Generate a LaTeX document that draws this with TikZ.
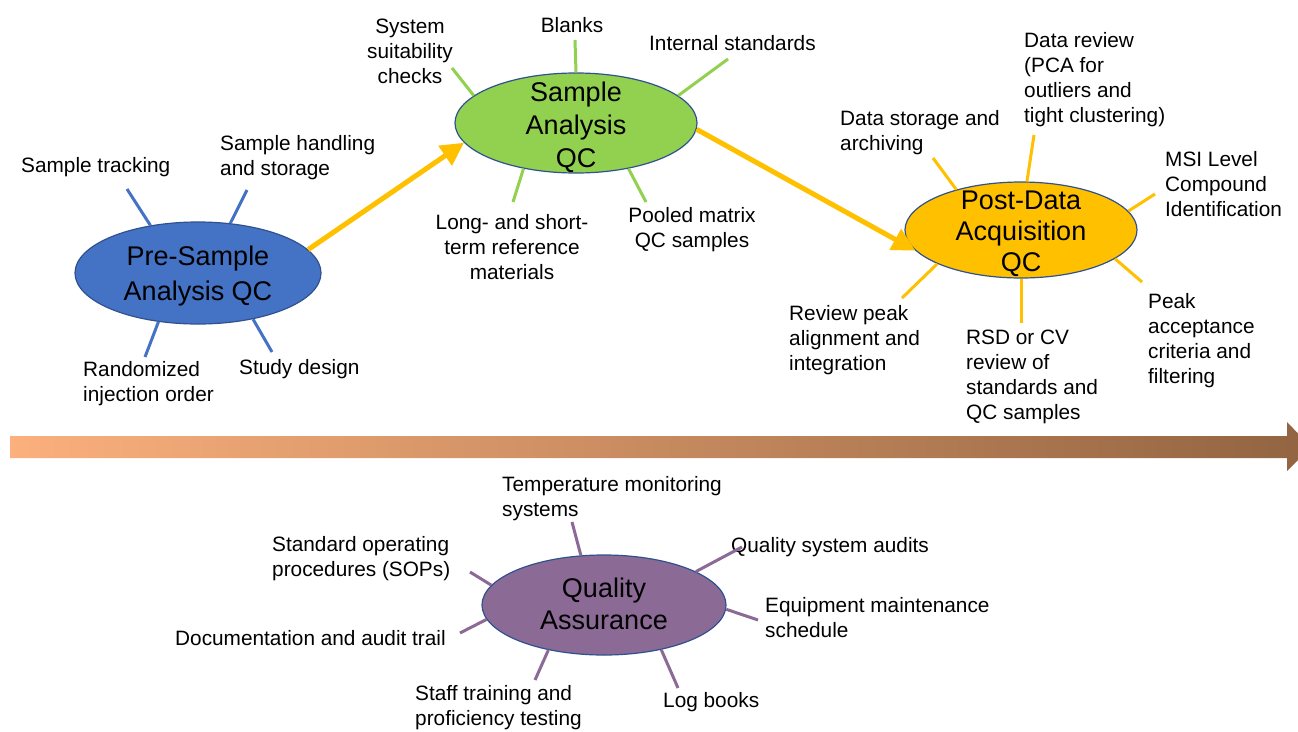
\documentclass[tikz,border=0pt]{standalone}
\usepackage{fontspec}
\setmainfont{Liberation Sans}
\usetikzlibrary{arrows.meta,shapes.geometric}
\definecolor{cblue}{HTML}{4472C4}
\definecolor{cgreen}{HTML}{92D050}
\definecolor{cyellow}{HTML}{FFC000}
\definecolor{cpurple}{HTML}{8C6A96}
\definecolor{cborder}{HTML}{2F528F}
\definecolor{gleft}{HTML}{FBB07D}
\definecolor{gright}{HTML}{926441}
\tikzset{
  ell/.style={ellipse, draw=cborder, line width=1.2pt, inner sep=0pt},
  bigtxt/.style={align=center, inner sep=0pt, font=\fontsize{27}{33}\selectfont},
  lbl/.style={align=left, anchor=west, inner sep=0pt, font=\fontsize{20.8}{25}\selectfont},
  lblc/.style={align=center, anchor=center, inner sep=0pt, font=\fontsize{20.8}{25}\selectfont},
  spoke/.style={line width=3pt},
  yarrow/.style={draw=cyellow, line width=5pt, -{Triangle[length=23pt,width=23pt]}}
}
\begin{document}
\begin{tikzpicture}[x=1pt,y=-1pt]
\useasboundingbox (0,0) rectangle (1298,731);
\fill[white] (0,0) rectangle (1298,731);
% timeline arrow
\begin{scope}
\clip (0,0) rectangle (1298,731);
\shade[left color=gleft, right color=gright] (10,436) -- (1287,436) -- (1287,422) -- (1311,447) -- (1287,471) -- (1287,458) -- (10,458) -- cycle;
\end{scope}
% ellipses
\node[ell, fill=cblue, minimum width=246pt, minimum height=102pt] (pre) at (198,273) {};
\node[bigtxt, font=\fontsize{27}{35}\selectfont, yshift=-3pt] (pret) at (pre) {Pre-Sample\\Analysis QC};
\node[ell, fill=cgreen, minimum width=242pt, minimum height=100pt] (sa) at (576,123) {};
\node[bigtxt, yshift=-4pt] (sat) at (sa) {Sample\\Analysis\\QC};
\node[ell, fill=cyellow, minimum width=232pt, minimum height=96pt] (pd) at (1021,230) {};
\node[bigtxt, yshift=-4pt, font=\fontsize{27}{31}\selectfont] (pdt) at (pd) {Post-Data\\Acquisition\\QC};
\node[ell, fill=cpurple, minimum width=244pt, minimum height=100pt] (qa) at (604,605) {};
\node[bigtxt, yshift=1pt, font=\fontsize{27}{32}\selectfont] (qat) at (qa) {Quality\\Assurance};
% main arrows
\draw[yarrow] (pre.12) -- (sa.190);
\draw[yarrow] (sa.-3) -- (pd.191);
% Pre-sample labels
\node[lbl] (l1) at (21,167) {Sample tracking};
\node[lbl] (l2) at (220,158) {Sample handling\\and storage};
\node[lbl] (l3) at (83,384) {Randomized\\injection order};
\node[lbl] (l4) at (239,369) {Study design};
\coordinate (c1) at (127,189);
\coordinate (c2) at (247,190);
\coordinate (c3) at (145,357);
\coordinate (c4) at (272,352);
\draw[spoke, cblue] (pre.135) -- (c1);
\draw[spoke, cblue] (pre.57) -- (c2);
\draw[spoke, cblue] (pre.231) -- (c3);
\draw[spoke, cblue] (pre.-40) -- (c4);
% Sample analysis labels
\node[lblc] (s1) at (410,51) {System\\suitability\\checks};
\node[lblc] (s2) at (572,25) {Blanks};
\node[lbl] (s3) at (649,43) {Internal standards};
\node[lblc] (s4) at (512,247) {Long- and short-\\term reference\\materials};
\node[lblc] (s5) at (692,230) {Pooled matrix\\QC samples};
\coordinate (d1) at (452,68);
\coordinate (d2) at (575,40);
\coordinate (d3) at (728,59);
\coordinate (d4) at (513,202);
\coordinate (d5) at (646,202);
\draw[spoke, cgreen] (sa.165) -- (d1);
\draw[spoke, cgreen] (sa.90) -- (d2);
\draw[spoke, cgreen] (sa.15) -- (d3);
\draw[spoke, cgreen] (sa.221) -- (d4);
\draw[spoke, cgreen] (sa.-41) -- (d5);
% Post-data labels
\node[lbl] (p1) at (840,133) {Data storage and\\archiving};
\node[lbl] (p2) at (1024,80) {Data review\\(PCA for\\outliers and\\tight clustering)};
\node[lbl] (p3) at (1165,184) {MSI Level\\Compound\\Identification};
\node[lbl] (p4) at (1148,341) {Peak\\acceptance\\criteria and\\filtering};
\node[lbl] (p5) at (966,377) {RSD or CV\\review of\\standards and\\QC samples};
\node[lbl] (p6) at (789,340) {Review peak\\alignment and\\integration};
\coordinate (e1) at (933,158);
\coordinate (e2) at (1034,135);
\coordinate (e3) at (1155,194);
\coordinate (e4) at (1142,282);
\coordinate (e5) at (1021,323);
\coordinate (e6) at (902,298);
\draw[spoke, cyellow] (pd.148) -- (e1);
\draw[spoke, cyellow] (pd.83) -- (e2);
\draw[spoke, cyellow] (pd.10) -- (e3);
\draw[spoke, cyellow] (pd.-17) -- (e4);
\draw[spoke, cyellow] (pd.-90) -- (e5);
\draw[spoke, cyellow] (pd.202) -- (e6);
% QA labels
\node[lbl] (q1) at (502,499) {Temperature monitoring\\systems};
\node[lbl] (q2) at (731,547) {Quality system audits};
\node[lbl] (q3) at (272,559) {Standard operating\\procedures (SOPs)};
\node[lbl] (q4) at (765,618) {Equipment maintenance\\schedule};
\node[lbl] (q5) at (175,638) {Documentation and audit trail};
\node[lbl] (q6) at (415,708) {Staff training and\\proficiency testing};
\node[lbl] (q7) at (663,702) {Log books};
\coordinate (f1) at (572,522);
\coordinate (f2) at (742,547);
\coordinate (f3) at (470,572);
\coordinate (f4) at (758,620);
\coordinate (f5) at (460,633);
\coordinate (f6) at (535,680);
\coordinate (f7) at (678,688);
\draw[spoke, cpurple] (qa.115) -- (f1);
\draw[spoke, cpurple] (qa.20) -- (f2);
\draw[spoke, cpurple] (qa.170) -- (f3);
\draw[spoke, cpurple] (qa.-2) -- (f4);
\draw[spoke, cpurple] (qa.187) -- (f5);
\draw[spoke, cpurple] (qa.219) -- (f6);
\draw[spoke, cpurple] (qa.-38) -- (f7);
\end{tikzpicture}
\end{document}
